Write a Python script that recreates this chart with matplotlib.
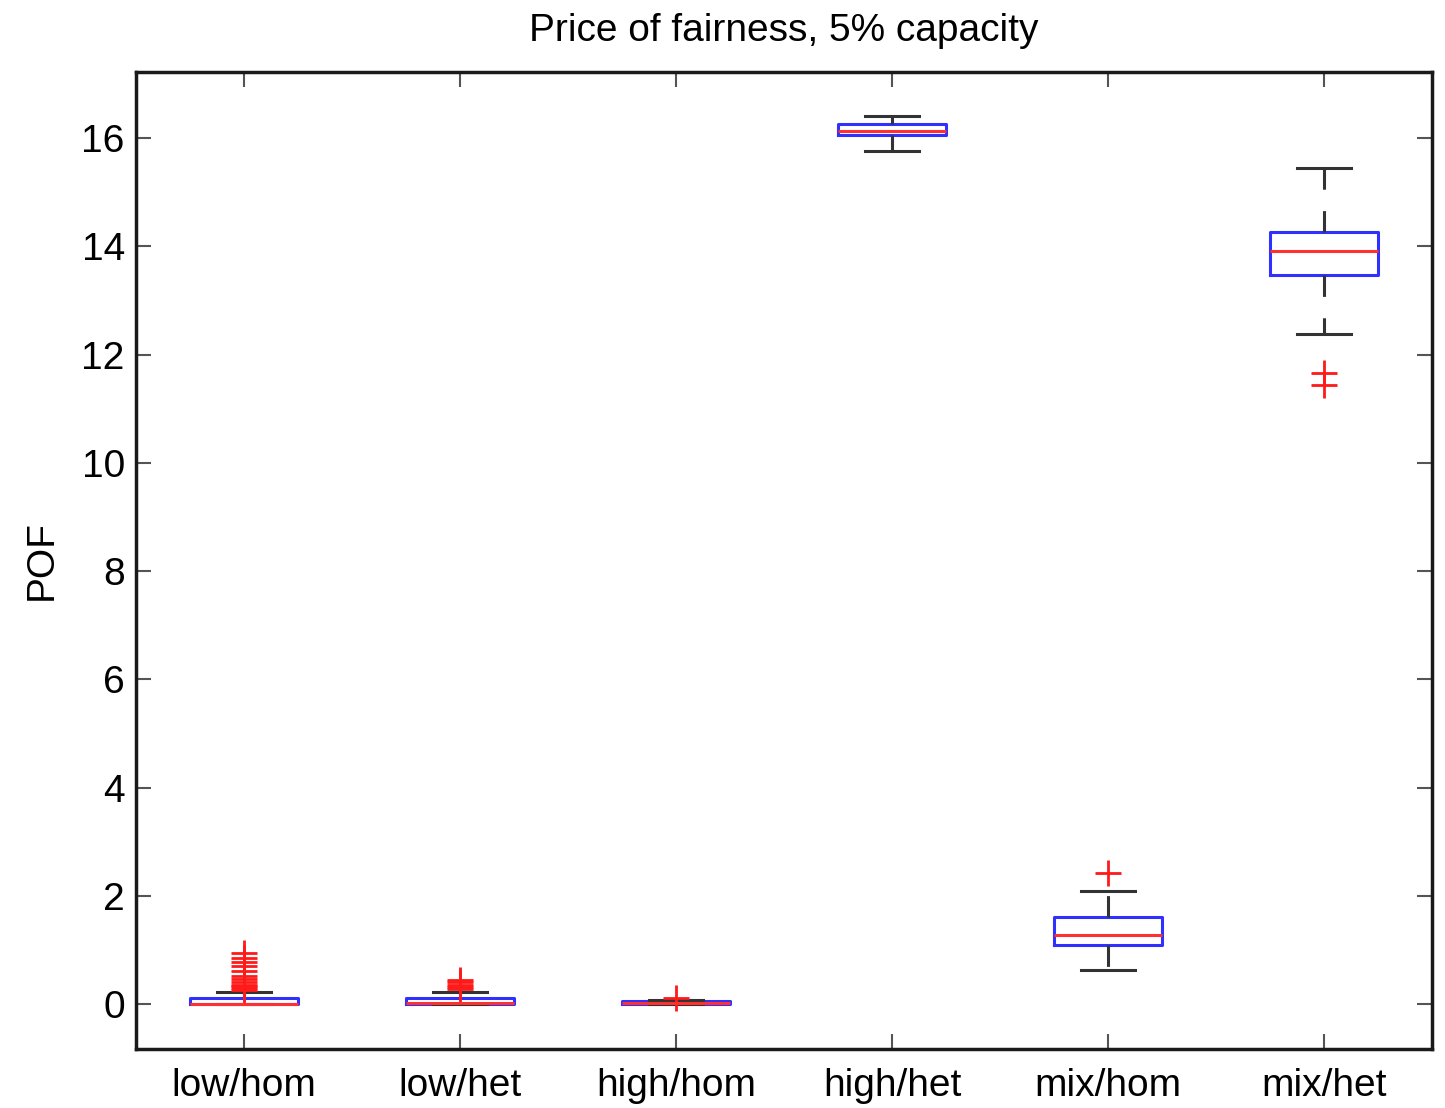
import matplotlib.pyplot as plt

plt.rcParams['font.family'] = ['Liberation Sans', 'DejaVu Sans']

# box statistics per scenario (POF)
labels = ['low/hom', 'low/het', 'high/hom', 'high/het', 'mix/hom', 'mix/het']
q1 = [0.0, 0.0, 0.0, 16.06, 1.09, 13.47]
med = [0.01, 0.02, 0.02, 16.13, 1.27, 13.91]
q3 = [0.12, 0.12, 0.06, 16.26, 1.61, 14.26]
whislo = [0.0, 0.0, 0.0, 15.76, 0.63, 12.38]
whishi = [0.23, 0.23, 0.07, 16.41, 2.09, 15.45]
fliers = [
    [0.27, 0.30, 0.33, 0.36, 0.40, 0.46, 0.52, 0.62, 0.70, 0.78, 0.86, 0.94],
    [0.28, 0.32, 0.36, 0.40, 0.45],
    [0.11],
    [],
    [2.42],
    [11.44, 11.66],
]

stats = []
for i, lab in enumerate(labels):
    stats.append(dict(label=lab, q1=q1[i], med=med[i], q3=q3[i],
                      whislo=whislo[i], whishi=whishi[i], fliers=fliers[i]))

fig = plt.figure(figsize=(14.45, 11.08), dpi=100)
ax = fig.add_axes([0.0941, 0.0532, 0.8969, 0.8818])

ax.bxp(stats, positions=range(1, 7), widths=0.5, showfliers=True,
       boxprops=dict(color='#3030ff', linewidth=2.2),
       medianprops=dict(color='#ff3030', linewidth=2.2),
       whiskerprops=dict(color='#333333', linewidth=2.2, linestyle=(0, (7, 7))),
       capprops=dict(color='#333333', linewidth=2.2),
       flierprops=dict(marker='+', markeredgecolor='#ff1a1a', markersize=19,
                       markeredgewidth=2.0, linestyle='none'))

ax.set_xlim(0.5, 6.5)
ax.set_ylim(-0.83, 17.22)
ax.set_yticks(range(0, 17, 2))
ax.set_xticks(range(1, 7))
ax.set_xticklabels(labels)

ax.tick_params(direction='in', length=11, width=1.5, color='#555555',
               labelsize=28, top=True, right=True)
ax.tick_params(axis='x', pad=14)
ax.tick_params(axis='y', pad=8)
for s in ax.spines.values():
    s.set_linewidth(2.5)
    s.set_color('#1a1a1a')

ax.set_ylabel('POF', fontsize=28, labelpad=16)
ax.set_title('Price of fairness, 5% capacity', fontsize=28, pad=22)

fig.savefig('out.png', dpi=100, facecolor='white')
